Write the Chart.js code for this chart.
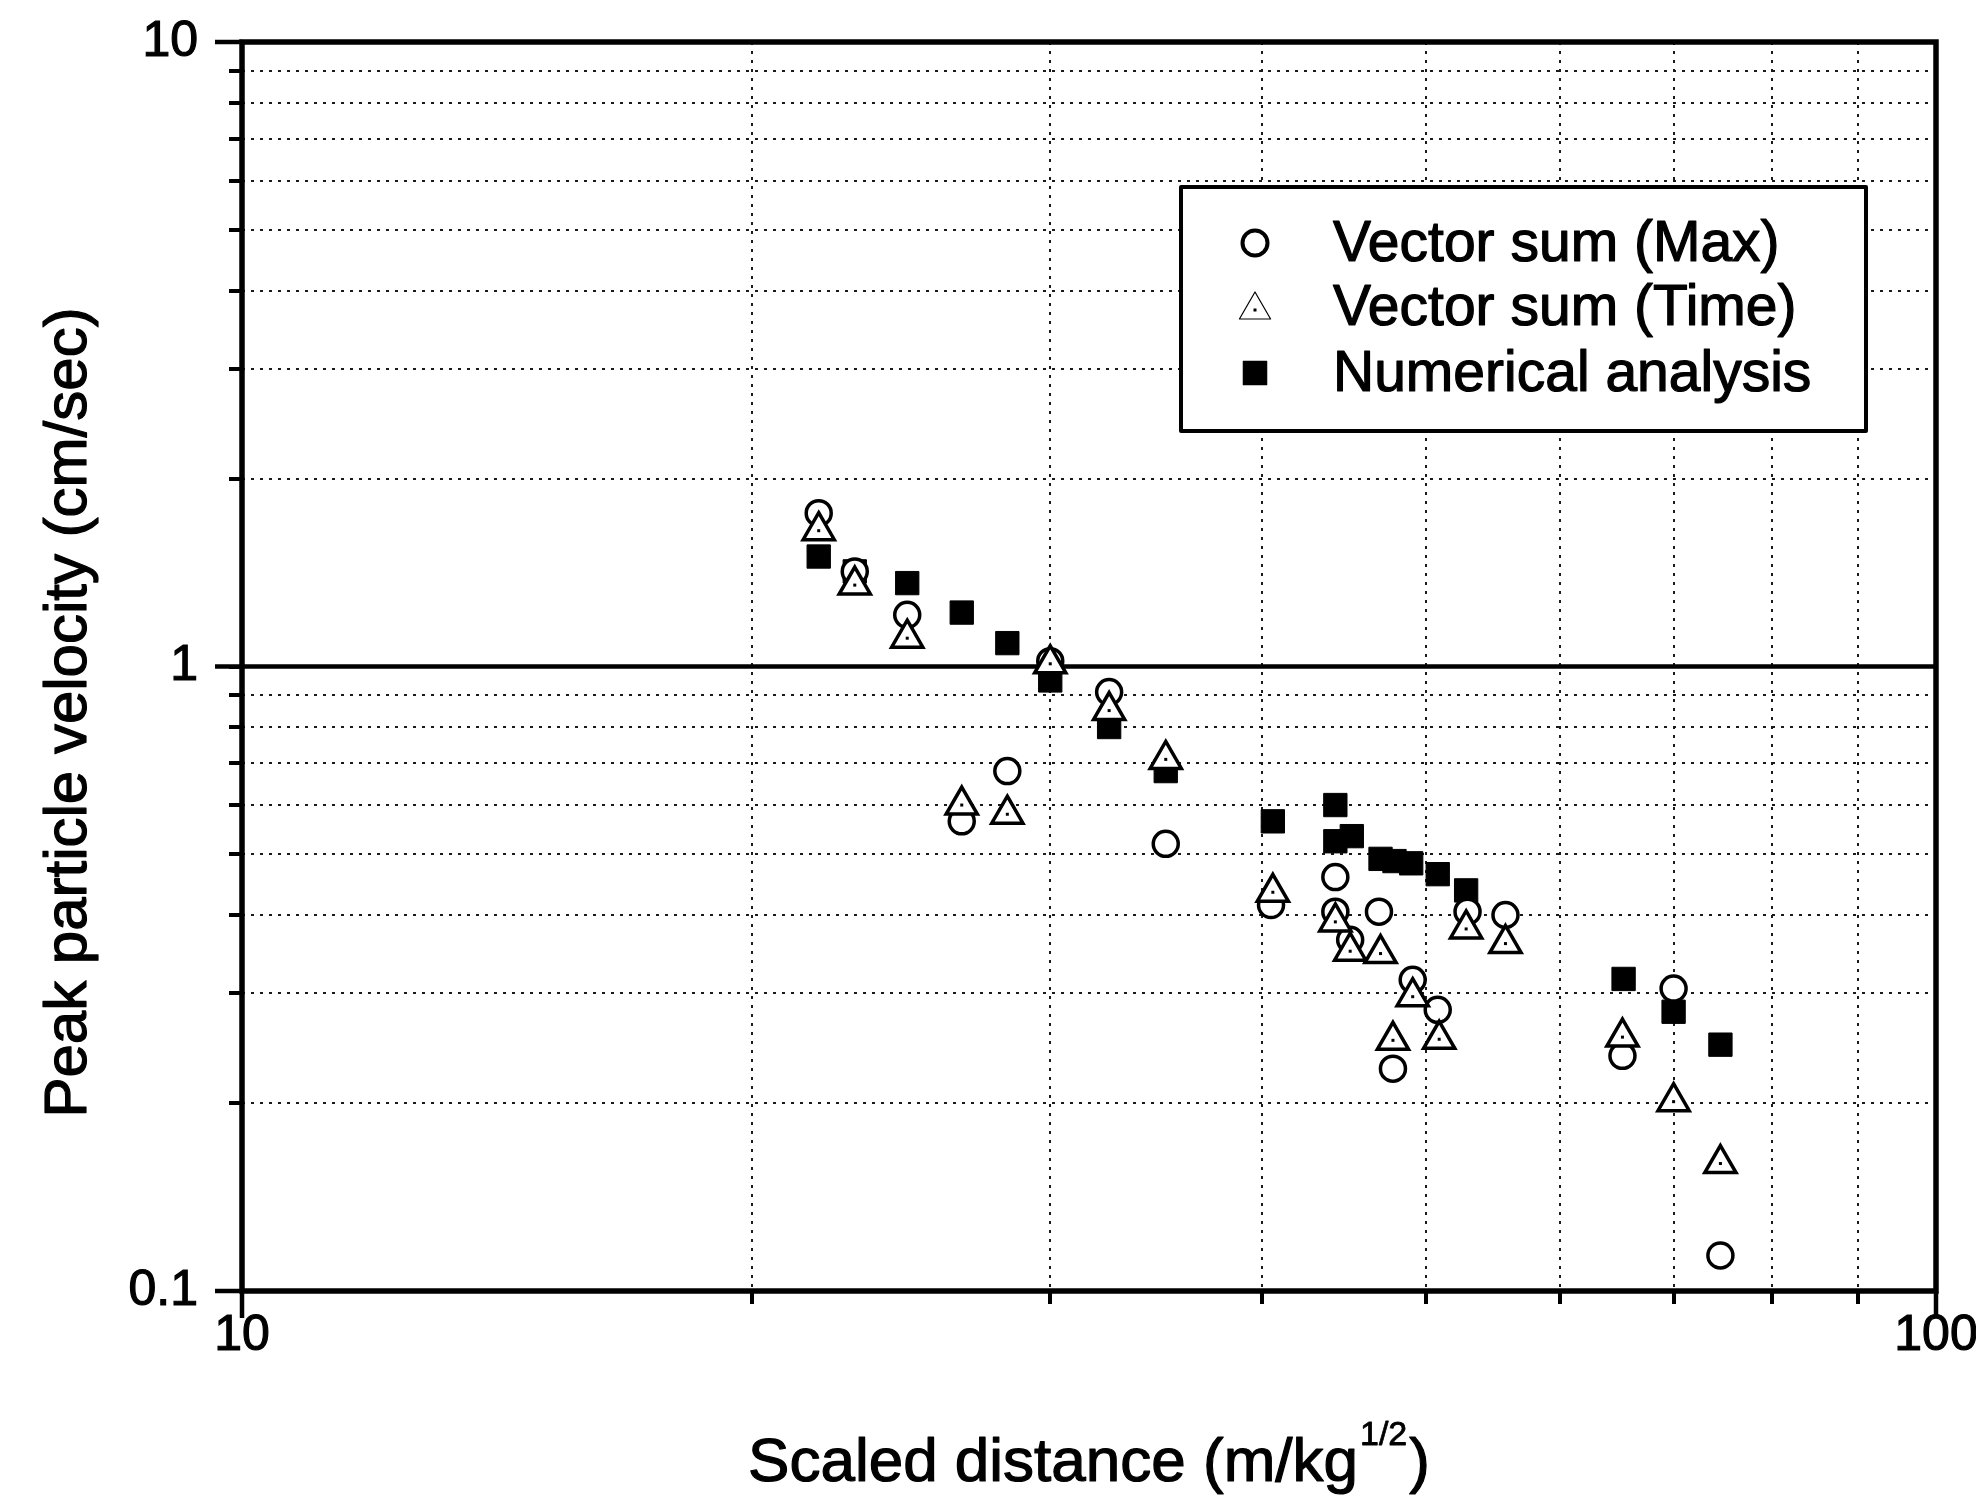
<!DOCTYPE html>
<html>
<head>
<meta charset="utf-8">
<script src="https://cdn.jsdelivr.net/npm/chart.js@4.4.1/dist/chart.umd.min.js"></script>
<style>
  html, body { margin: 0; padding: 0; background: #fff; }
  #wrap { width: 1976px; height: 1498px; position: relative; }
</style>
</head>
<body>
<div id="wrap"><canvas id="ppv"></canvas></div>
<script>
// Vector sum (Max): scaled distance (m/kg^1/2) and peak particle velocity (cm/sec)
const maxDistance = [21.9, 23.0, 24.7, 26.6, 28.3, 30.0, 32.5, 35.1, 40.5, 44.2, 44.2, 45.1, 46.9, 47.8, 49.1, 50.8, 52.9, 55.7, 65.3, 70.0, 74.6];
const maxVelocity = [1.76, 1.42, 1.21, 0.565, 0.68, 1.02, 0.91, 0.52, 0.415, 0.46, 0.405, 0.365, 0.405, 0.227, 0.315, 0.282, 0.405, 0.40, 0.238, 0.305, 0.114];

// Vector sum (Time)
const timeDistance = [21.9, 23.0, 24.7, 26.6, 28.3, 30.0, 32.5, 35.1, 40.6, 44.2, 45.1, 47.0, 47.8, 49.1, 50.9, 52.8, 55.7, 65.3, 70.0, 74.6];
const timeVelocity = [1.65, 1.35, 1.11, 0.60, 0.58, 1.01, 0.85, 0.71, 0.435, 0.39, 0.35, 0.347, 0.252, 0.296, 0.253, 0.38, 0.36, 0.255, 0.201, 0.16];

// Numerical analysis
const numDistance = [21.9, 23.0, 24.7, 26.6, 28.3, 30.0, 32.5, 35.1, 40.6, 44.2, 44.2, 45.2, 47.0, 47.9, 49.0, 50.8, 52.8, 65.4, 70.0, 74.6];
const numVelocity = [1.50, 1.42, 1.36, 1.22, 1.09, 0.95, 0.80, 0.68, 0.565, 0.60, 0.525, 0.535, 0.492, 0.488, 0.484, 0.465, 0.438, 0.316, 0.28, 0.248];

const seriesNames = ['Vector sum (Max)', 'Vector sum (Time)', 'Numerical analysis'];

// Axis ranges, grid positions and labelled (decade) ticks
const xRange = [10, 100];
const yRange = [0.1, 10];
const xGridValues = [10, 20, 30, 40, 50, 60, 70, 80, 90, 100];
const yGridValues = [0.1, 0.2, 0.3, 0.4, 0.5, 0.6, 0.7, 0.8, 0.9, 1, 2, 3, 4, 5, 6, 7, 8, 9, 10];
const xTickLabels = ['10', '100'];
const yTickLabels = ['0.1', '1', '10'];

const xTitle = 'Scaled distance (m/kg';
const xTitleSup = '1/2';
const xTitleEnd = ')';
const yTitle = 'Peak particle velocity (cm/sec)';

const FONT = '"Liberation Sans", Arial, Helvetica, sans-serif';

function toPoints(xs, ys) {
  return xs.map((x, i) => ({ x: x, y: ys[i] }));
}

function isDecade(v) {
  const l = Math.log10(v);
  return Math.abs(l - Math.round(l)) < 1e-6;
}

function decadeLabel(v, labels) {
  if (!isDecade(v)) return '';
  const hit = labels.find(s => Math.abs(parseFloat(s) - v) < 1e-9 * Math.max(1, v));
  return hit !== undefined ? hit : '';
}

// slightly heavier text, as printed
function heavyText(ctx, text, x, y, weight) {
  ctx.lineWidth = weight;
  ctx.strokeStyle = '#000';
  ctx.lineJoin = 'round';
  ctx.strokeText(text, x, y);
  ctx.fillText(text, x, y);
}

const markerStyles = [
  { pointStyle: 'circle', radius: 12.5, backgroundColor: '#fff', borderColor: '#000', borderWidth: 3.5 },
  { pointStyle: 'triangle', radius: 18, backgroundColor: '#fff', borderColor: '#000', borderWidth: 3.5 },
  { pointStyle: 'rect', radius: 16.5, backgroundColor: '#000', borderColor: '#000', borderWidth: 1 }
];

// Frame, the solid 1.0 line, longer decade ticks, axis titles and the boxed legend
const decorations = {
  id: 'decorations',
  beforeDatasetsDraw(chart) {
    const { ctx, chartArea: a, scales: { x, y } } = chart;
    ctx.save();
    ctx.strokeStyle = '#000';
    ctx.lineCap = 'butt';
    // solid line at every inner decade of the y axis
    ctx.lineWidth = 4.5;
    y.ticks.forEach(t => {
      if (isDecade(t.value) && t.value > yRange[0] && t.value < yRange[1]) {
        const py = y.getPixelForValue(t.value);
        ctx.beginPath();
        ctx.moveTo(a.left, py);
        ctx.lineTo(a.right, py);
        ctx.stroke();
      }
    });
    // longer outward ticks at decades
    ctx.lineWidth = 4.5;
    y.ticks.forEach(t => {
      if (isDecade(t.value)) {
        const py = y.getPixelForValue(t.value);
        ctx.beginPath();
        ctx.moveTo(a.left - 27, py);
        ctx.lineTo(a.left, py);
        ctx.stroke();
      }
    });
    x.ticks.forEach(t => {
      if (isDecade(t.value)) {
        const px = x.getPixelForValue(t.value);
        ctx.beginPath();
        ctx.moveTo(px, a.bottom);
        ctx.lineTo(px, a.bottom + 27);
        ctx.stroke();
      }
    });
    // plot frame
    ctx.lineWidth = 5.5;
    ctx.strokeRect(a.left, a.top, a.right - a.left, a.bottom - a.top);
    ctx.restore();
  },
  afterDatasetsDraw(chart) {
    // centre dot inside each triangle marker
    const { ctx } = chart;
    const meta = chart.getDatasetMeta(1);
    ctx.save();
    ctx.fillStyle = '#000';
    meta.data.forEach(el => {
      ctx.fillRect(el.x - 1.5, el.y - 1.5, 3, 3);
    });
    ctx.restore();
  },
  afterDraw(chart) {
    const { ctx, chartArea: a } = chart;
    ctx.save();
    ctx.fillStyle = '#000';

    // y axis title
    ctx.font = '60px ' + FONT;
    ctx.textAlign = 'center';
    ctx.textBaseline = 'middle';
    ctx.save();
    ctx.translate(69, (a.top + a.bottom) / 2 + 46);
    ctx.rotate(-Math.PI / 2);
    heavyText(ctx, yTitle, 0, 0, 1.2);
    ctx.restore();

    // x axis title with superscript exponent
    const mainFont = '62px ' + FONT;
    const supFont = '34px ' + FONT;
    ctx.textAlign = 'left';
    ctx.textBaseline = 'alphabetic';
    ctx.font = mainFont;
    const w1 = ctx.measureText(xTitle).width;
    const w3 = ctx.measureText(xTitleEnd).width;
    ctx.font = supFont;
    const w2 = ctx.measureText(xTitleSup).width;
    const total = w1 + w2 + w3 + 4;
    let tx = (a.left + a.right) / 2 - total / 2;
    const base = 1481;
    ctx.font = mainFont;
    heavyText(ctx, xTitle, tx, base, 1.2);
    tx += w1 + 2;
    ctx.font = supFont;
    heavyText(ctx, xTitleSup, tx, base - 36, 0.8);
    tx += w2 + 2;
    ctx.font = mainFont;
    heavyText(ctx, xTitleEnd, tx, base, 1.2);

    // legend box
    const box = { left: 1181, top: 187, width: 685, height: 244 };
    ctx.fillStyle = '#fff';
    ctx.fillRect(box.left, box.top, box.width, box.height);
    ctx.strokeStyle = '#000';
    ctx.lineWidth = 4;
    ctx.strokeRect(box.left, box.top, box.width, box.height);
    const rowY = [243, 307, 373];
    chart.data.datasets.forEach((ds, i) => {
      const m = markerStyles[i];
      const my = rowY[i] + (m.pointStyle === 'triangle' ? 3 : 0);
      ctx.save();
      ctx.fillStyle = m.backgroundColor;
      ctx.strokeStyle = m.borderColor;
      Chart.helpers.drawPoint(ctx, {
        pointStyle: m.pointStyle, radius: m.radius, rotation: 0, borderWidth: m.borderWidth
      }, 1255, my);
      if (m.pointStyle === 'triangle') {
        ctx.fillStyle = '#000';
        ctx.fillRect(1255 - 1.5, my - 1.5, 3, 3);
      }
      ctx.restore();
      ctx.fillStyle = '#000';
      ctx.font = '57px ' + FONT;
      ctx.textAlign = 'left';
      ctx.textBaseline = 'middle';
      heavyText(ctx, ds.label, 1333, rowY[i] + 2, 1.2);
    });
    ctx.restore();
  }
};

const datasets = [
  { label: seriesNames[0], data: toPoints(maxDistance, maxVelocity), order: 1 },
  { label: seriesNames[1], data: toPoints(timeDistance, timeVelocity), order: 0 },
  { label: seriesNames[2], data: toPoints(numDistance, numVelocity), order: 2 }
].map((d, i) => Object.assign(d, {
  pointStyle: markerStyles[i].pointStyle,
  pointRadius: markerStyles[i].radius,
  pointHoverRadius: markerStyles[i].radius,
  pointBackgroundColor: markerStyles[i].backgroundColor,
  pointBorderColor: markerStyles[i].borderColor,
  pointBorderWidth: markerStyles[i].borderWidth,
  showLine: false
}));

const gridCommon = {
  color: '#1a1a1a',
  lineWidth: 2,
  drawTicks: true,
  tickLength: 13,
  tickWidth: 4,
  tickColor: '#000'
};

const tickFont = { family: FONT, size: 50 };

new Chart(document.getElementById('ppv'), {
  type: 'scatter',
  data: { datasets: datasets },
  options: {
    responsive: true,
    maintainAspectRatio: false,
    animation: false,
    devicePixelRatio: 1,
    layout: { padding: { left: 0, top: 42, right: 40, bottom: 0 } },
    plugins: {
      legend: { display: false },
      tooltip: { enabled: false }
    },
    scales: {
      x: {
        type: 'logarithmic',
        min: xRange[0],
        max: xRange[1],
        grid: gridCommon,
        border: { display: false, dash: [3, 6] },
        afterBuildTicks: (s) => { s.ticks = xGridValues.map(v => ({ value: v })); },
        ticks: {
          autoSkip: false,
          maxRotation: 0,
          padding: 2,
          color: '#000',
          textStrokeColor: '#000',
          textStrokeWidth: 1.2,
          font: tickFont,
          callback: (v) => decadeLabel(v, xTickLabels)
        },
        afterFit: (s) => { s.height = 207; s.paddingLeft = 0; s.paddingRight = 0; }
      },
      y: {
        type: 'logarithmic',
        min: yRange[0],
        max: yRange[1],
        grid: gridCommon,
        border: { display: false, dash: [3, 6] },
        afterBuildTicks: (s) => { s.ticks = yGridValues.map(v => ({ value: v })); },
        ticks: {
          autoSkip: false,
          padding: 31,
          color: '#000',
          textStrokeColor: '#000',
          textStrokeWidth: 1.2,
          font: tickFont,
          callback: (v) => decadeLabel(v, yTickLabels)
        },
        afterFit: (s) => { s.width = 242; s.paddingTop = 0; s.paddingBottom = 0; }
      }
    }
  },
  plugins: [decorations]
});
</script>
</body>
</html>
